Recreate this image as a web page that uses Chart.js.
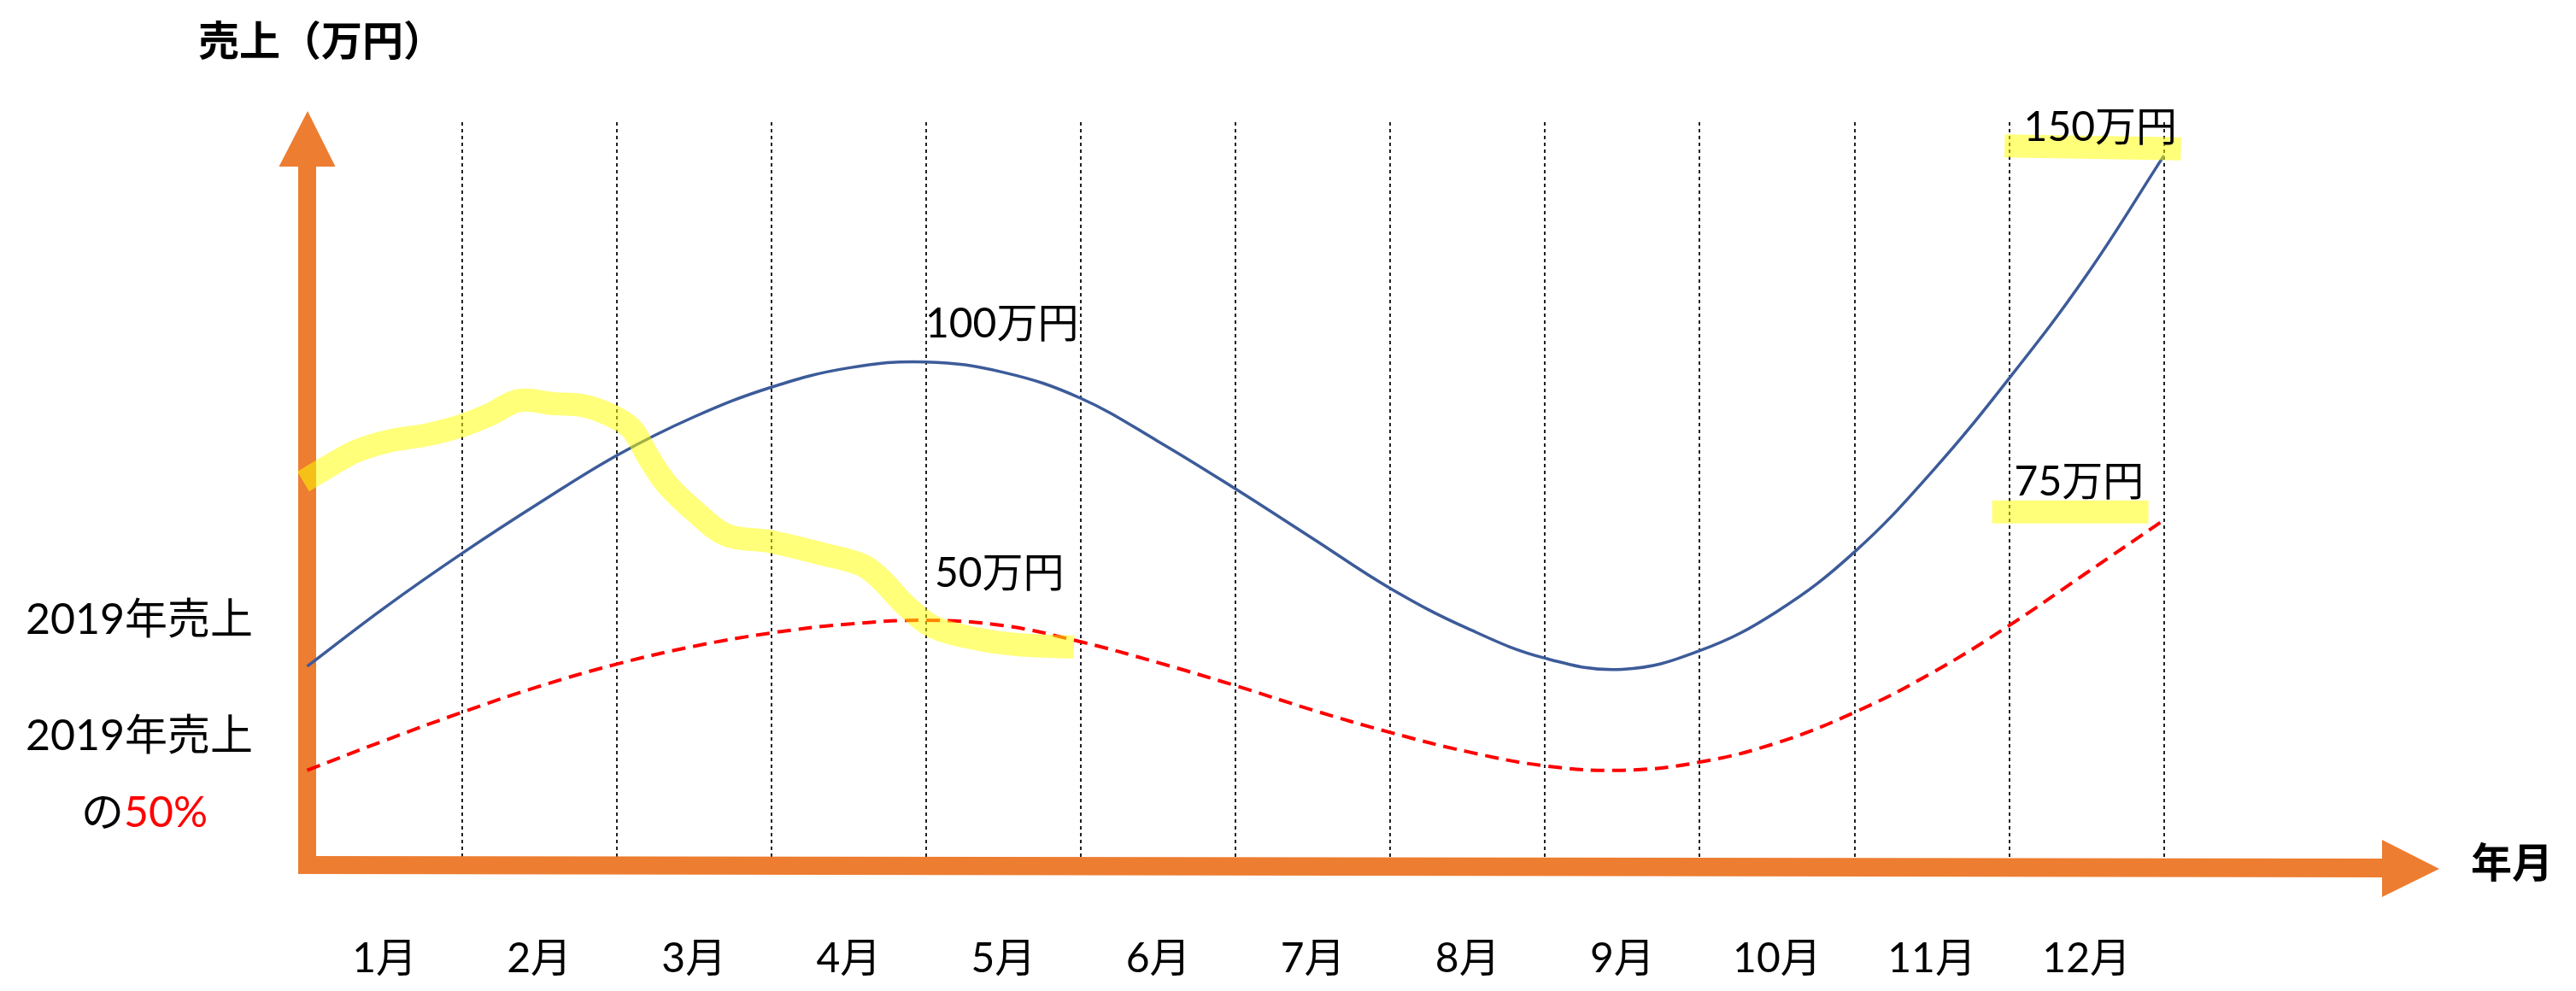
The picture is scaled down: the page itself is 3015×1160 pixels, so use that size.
<!DOCTYPE html>
<html>
<head>
<meta charset="utf-8">
<script src="https://cdn.jsdelivr.net/npm/chart.js@4.4.0/dist/chart.umd.min.js"></script>
<style>
  html, body { margin: 0; padding: 0; background: #ffffff; }
  #wrap { width: 3015px; height: 1160px; }
</style>
</head>
<body>
<div id="wrap"><canvas id="c" width="3015" height="1160"></canvas></div>
<script>
// ---------- data ----------
const monthLabels = ['1月','2月','3月','4月','5月','6月','7月','8月','9月','10月','11月','12月'];
const monthTickPositions = [0.5,1.5,2.5,3.5,4.5,5.5,6.5,7.5,8.5,9.5,10.5,11.5];

// curve sample positions (month boundaries, half-month steps)
const curveX = [0,0.5,1,1.5,2,2.5,3,3.5,4,4.5,5,5.5,6,6.5,7,7.5,8,8.5,9,9.5,10,10.5,11,11.5,12];
// 2019 sales curve (blue, arbitrary height units)
const sales2019 = [26.7,34.6,41.9,48.7,55.1,60.3,64.3,66.9,67.7,66.3,62.8,57.0,50.6,43.9,37.2,31.8,27.8,26.3,28.8,34.1,42.1,52.9,65.5,79.4,95.5];
// 50% of 2019 sales (red dashed)
const half2019 = [12.7,16.7,20.5,24.0,27.0,29.4,31.2,32.4,32.9,32.2,30.0,27.2,24.1,20.8,17.8,15.2,13.3,12.7,13.8,16.4,20.5,25.8,32.2,39.3,46.4];

// yellow highlighter strokes
const highlightMainX = [-0.025,0.168,0.318,0.538,0.776,0.997,1.179,1.367,1.588,1.787,1.974,2.101,2.211,2.322,2.504,2.709,2.995,3.316,3.592,3.719,3.868,4.050,4.326,4.602,4.955];
const highlightMainY = [51.6,54.0,55.7,57.1,57.9,59.1,60.6,62.5,62.1,61.8,60.4,58.6,54.7,51.3,47.6,44.4,43.5,41.9,40.3,38.2,34.9,32.0,30.4,29.6,29.3];
const highlight150X = [10.97, 12.11];
const highlight150Y = [96.8, 96.4];
const highlight75X = [10.89, 11.90];
const highlight75Y = [47.5, 47.5];

// text annotations
const axisTitleY = '売上（万円）';
const axisTitleX = '年月';
const valueNotes = ['100万円', '50万円', '150万円', '75万円'];
const leftNote1 = '2019年売上';
const leftNote2 = '2019年売上';
const leftNote3a = 'の';
const leftNote3b = '50%';

// ---------- helpers ----------
const zip = (xs, ys) => xs.map((x, i) => ({x: x, y: ys[i]}));
const FONT = "Lato, 'Noto Sans CJK JP', sans-serif";
const FONT_CJK = "'Noto Sans CJK JP', sans-serif";
const ORANGE = '#ED7D31';
const YELLOW = 'rgba(255,255,0,0.52)';

const decorPlugin = {
  id: 'decor',
  beforeDatasetsDraw(chart) {
    const ctx = chart.ctx;
    const xs = chart.scales.x, ys = chart.scales.y;
    const xa = xs.getPixelForValue(0);
    const ya = ys.getPixelForValue(0);
    ctx.save();
    ctx.fillStyle = ORANGE;
    // vertical axis arrow
    ctx.beginPath();
    ctx.rect(xa - 10.5, 195, 21, ya + 11 - 195);
    ctx.fill();
    ctx.beginPath();
    ctx.moveTo(xa - 33, 195);
    ctx.lineTo(xa + 33, 195);
    ctx.lineTo(xa + 0.5, 130);
    ctx.closePath();
    ctx.fill();
    // horizontal axis arrow
    ctx.beginPath();
    ctx.moveTo(xa - 10.5, ya - 10);
    ctx.lineTo(2788, ya - 7);
    ctx.lineTo(2788, ya - 29);
    ctx.lineTo(2855, ya + 5);
    ctx.lineTo(2788, ya + 38);
    ctx.lineTo(2788, ya + 15);
    ctx.lineTo(xa - 10.5, ya + 11);
    ctx.closePath();
    ctx.fill();
    ctx.restore();
  },
  afterDraw(chart) {
    const ctx = chart.ctx;
    const xs = chart.scales.x;
    ctx.save();
    ctx.fillStyle = '#000000';
    ctx.textAlign = 'left';
    // axis titles
    ctx.textBaseline = 'middle';
    ctx.font = "bold 48px " + FONT_CJK;
    ctx.fillText(axisTitleY, 232, 47);
    ctx.fillText(axisTitleX, 2892, 1009);
    // value notes
    ctx.textBaseline = 'alphabetic';
    ctx.font = "48px " + FONT;
    ctx.fillText(valueNotes[0], xs.getPixelForValue(4) - 1, 395);
    ctx.fillText(valueNotes[1], xs.getPixelForValue(4) + 10, 687);
    ctx.fillText(valueNotes[2], xs.getPixelForValue(11) + 17, 165);
    ctx.fillText(valueNotes[3], xs.getPixelForValue(11) + 6, 580);
    // left notes
    ctx.font = "50px " + FONT;
    ctx.fillText(leftNote1, 30, 742);
    ctx.fillText(leftNote2, 30, 878);
    ctx.fillText(leftNote3a, 95, 968);
    const w = ctx.measureText(leftNote3a).width;
    ctx.fillStyle = '#FF0000';
    ctx.fillText(leftNote3b, 95 + w, 968);
    ctx.restore();
  }
};

new Chart(document.getElementById('c'), {
  type: 'line',
  data: {
    datasets: [
      { label: 'hl-main', data: zip(highlightMainX, highlightMainY), borderColor: YELLOW, borderWidth: 27,
        tension: 0.35, pointRadius: 0, borderCapStyle: 'butt', borderJoinStyle: 'round', clip: false, order: 0 },
      { label: 'hl-150', data: zip(highlight150X, highlight150Y), borderColor: YELLOW, borderWidth: 27,
        tension: 0, pointRadius: 0, borderCapStyle: 'butt', clip: false, order: 0 },
      { label: 'hl-75', data: zip(highlight75X, highlight75Y), borderColor: YELLOW, borderWidth: 27,
        tension: 0, pointRadius: 0, borderCapStyle: 'butt', clip: false, order: 0 },
      { label: '2019年売上', data: zip(curveX, sales2019), borderColor: '#3C5B99', borderWidth: 3.5,
        tension: 0.4, pointRadius: 0, clip: false, order: 2 },
      { label: '2019年売上の50%', data: zip(curveX, half2019), borderColor: '#FF0000', borderWidth: 4,
        borderDash: [16, 9], tension: 0.4, pointRadius: 0, clip: false, order: 3 }
    ]
  },
  options: {
    responsive: false,
    devicePixelRatio: 1,
    animation: false,
    events: [],
    layout: { padding: { left: 359.5, right: 482.3, top: 143, bottom: 10.8 } },
    plugins: { legend: { display: false }, tooltip: { enabled: false } },
    scales: {
      x: {
        type: 'linear', min: 0, max: 12, position: 'bottom',
        afterBuildTicks: (s) => { s.ticks = monthTickPositions.map(v => ({ value: v })); },
        afterFit: (s) => { s.height = 137.2; s.paddingLeft = 0; s.paddingRight = 0; },
        ticks: {
          callback: (v, i) => monthLabels[i],
          font: { family: FONT, size: 48 }, color: '#000000',
          padding: 82, autoSkip: false, maxRotation: 0, minRotation: 0
        },
        grid: { display: true, offset: true, drawTicks: false, color: '#222222', lineWidth: 2 },
        border: { display: false, dash: [4, 4] }
      },
      y: { type: 'linear', min: 0, max: 100, display: false }
    }
  },
  plugins: [decorPlugin]
});
</script>
</body>
</html>
